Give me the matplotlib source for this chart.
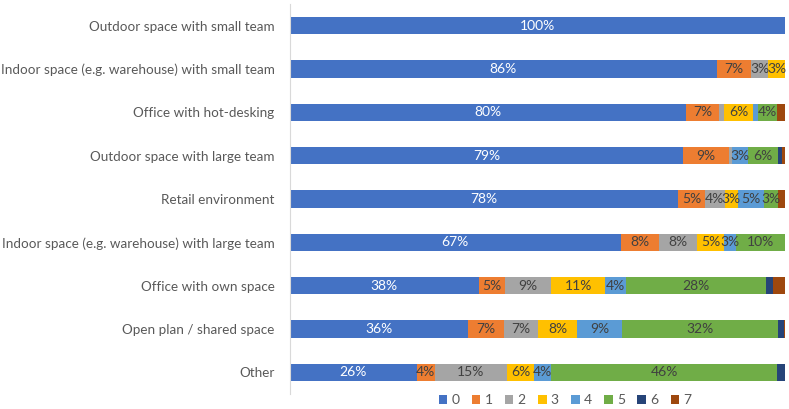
import numpy as np
import matplotlib.pyplot as plt

plt.rcParams['font.family'] = ['Lato', 'DejaVu Sans']

categories = [
    "Outdoor space with small team",
    "Indoor space (e.g. warehouse) with small team",
    "Office with hot-desking",
    "Outdoor space with large team",
    "Retail environment",
    "Indoor space (e.g. warehouse) with large team",
    "Office with own space",
    "Open plan / shared space",
    "Other",
]
series_names = ["0", "1", "2", "3", "4", "5", "6", "7"]

# one list per category, values per answer 0..7 (percent)
outdoor_small = [100, 0, 0, 0, 0, 0, 0, 0]
indoor_small = [86.2, 7.0, 3.4, 3.4, 0, 0, 0, 0]
office_hotdesk = [79.9, 6.8, 1.0, 5.8, 1.0, 3.8, 0, 1.7]
outdoor_large = [79.4, 9.2, 0.7, 0, 3.2, 6.0, 0.8, 0.7]
retail = [78.4, 5.4, 4.0, 2.7, 5.3, 2.8, 0, 1.4]
indoor_large = [66.8, 7.8, 7.7, 5.3, 2.6, 9.8, 0, 0]
office_own = [38.1, 5.3, 9.4, 10.9, 4.1, 28.3, 1.5, 2.4]
open_plan = [35.9, 7.3, 7.0, 7.8, 9.0, 31.6, 1.2, 0.2]
other = [25.6, 3.6, 14.6, 5.5, 3.5, 45.6, 1.6, 0]

data = np.array([outdoor_small, indoor_small, office_hotdesk, outdoor_large,
                 retail, indoor_large, office_own, open_plan, other])

colors = ["#4472C4", "#ED7D31", "#A5A5A5", "#FFC000",
          "#5B9BD5", "#70AD47", "#264478", "#9E480E"]

fig = plt.figure(figsize=(7.89, 4.09), dpi=100)
ax = fig.add_axes([290 / 789, 15 / 409, 495 / 789, 390 / 409])

y = np.arange(len(categories))
left = np.zeros(len(categories))
for j, name in enumerate(series_names):
    vals = data[:, j]
    ax.barh(y, vals, left=left, height=0.4, color=colors[j], label=name)
    for i, v in enumerate(vals):
        if v >= 2.5:
            ax.text(left[i] + v / 2, y[i], f"{round(v)}%", ha='center', va='center',
                    fontsize=10, color='white' if j == 0 else '#404040')
    left += vals

ax.set_xlim(0, 100)
ax.set_ylim(len(categories) - 0.5, -0.5)
ax.set_yticks(y)
ax.set_yticklabels(categories, fontsize=9.7, color='#595959')
ax.tick_params(axis='y', length=0, pad=11)
ax.set_xticks([])
for s in ['top', 'right', 'bottom']:
    ax.spines[s].set_visible(False)
ax.spines['left'].set_color('#D9D9D9')

leg = fig.legend(loc='center', bbox_to_anchor=(565 / 789, 9 / 409), ncol=8, frameon=False,
                 fontsize=10, handlelength=0.6, handleheight=0.6, handletextpad=0.3,
                 columnspacing=0.9, labelcolor='#595959')

fig.savefig("out.png", dpi=100)
